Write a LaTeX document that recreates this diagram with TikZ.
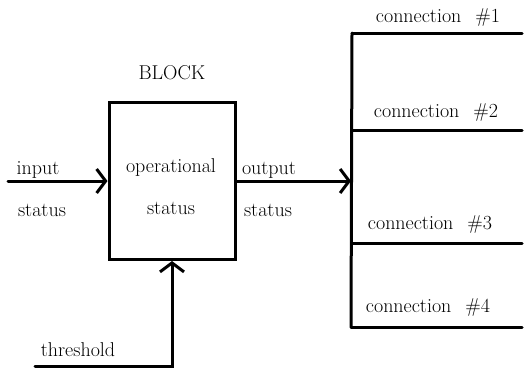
\documentclass[tikz,border=0pt]{standalone}
\usepackage{fontspec}
\setmainfont{Latin Modern Roman}
\usepackage{tikz}
\usetikzlibrary{arrows.meta, positioning}

\tikzset{
  wire/.style={line width=3pt, line cap=round, line join=miter},
  feed/.style={wire, -{Straight Barb[length=9pt,width=24pt,line width=3pt]}},
  lbl/.style={font=\fontsize{20}{23}\selectfont, inner sep=0pt},
  blockbox/.style={draw, line width=3pt, minimum width=126pt, minimum height=157pt}
}
\newcommand{\conn}[1]{connection\hspace{0.7em}\##1}

\begin{document}
\begin{tikzpicture}[x=1pt, y=-1pt]
\useasboundingbox (0,0) rectangle (526,370);

% The block and its title
\node[blockbox] (blk) at (172,181) {};
\node[lbl] (blktitle) at (172,73) {BLOCK};
\node[lbl] (opstat1) at (171,168) {operational};
\node[lbl] (opstat2) at (171,208) {status};

% Input side
\coordinate (inp) at (8,181);
\draw[feed] (inp) -- (blk.west);
\node[lbl] (inlbl1) at (38,170) {input};
\node[lbl] (inlbl2) at (42,210) {status};

% Threshold from below
\coordinate (thr) at (35,366);
\draw[feed] (thr) -| (blk.south);
\node[lbl] (thrlbl) at (78,350) {threshold};

% Output to the bus
\coordinate (bustop) at (352,33);
\coordinate (busbot) at (351,327);
\coordinate (busin) at (351,181);
\draw[feed] (blk.east) -- (busin);
\node[lbl] (outlbl1) at (269,170) {output};
\node[lbl] (outlbl2) at (268,210) {status};
\draw[wire] (bustop) -- (busbot);

% Connections off the bus
\coordinate (c1) at (522,33);
\coordinate (c2) at (522,130);
\coordinate (c3) at (522,243);
\coordinate (c4) at (522,327);
\draw[wire] (bustop) -- (c1);
\draw[wire] (bustop |- c2) -- (c2);
\draw[wire] (bustop |- c3) -- (c3);
\draw[wire] (busbot) -- (c4);
\node[lbl] (con1) at (438,18) {\conn{1}};
\node[lbl] (con2) at (436,113) {\conn{2}};
\node[lbl] (con3) at (430,225) {\conn{3}};
\node[lbl] (con4) at (428,308) {\conn{4}};
\end{tikzpicture}
\end{document}
